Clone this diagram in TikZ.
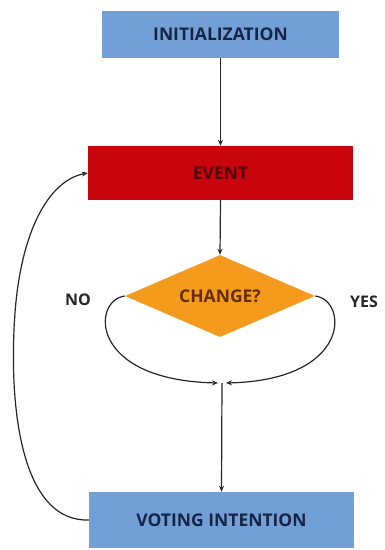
\documentclass[tikz,border=0pt]{standalone}
\usepackage{fontspec}
\setmainfont{Open Sans}
\usetikzlibrary{shapes.geometric,arrows.meta}
\definecolor{boxblue}{RGB}{114,160,214}
\definecolor{evred}{RGB}{200,4,12}
\definecolor{decor}{RGB}{244,154,28}
\definecolor{navy}{RGB}{22,36,70}
\definecolor{darkred}{RGB}{80,0,0}
\definecolor{brown}{RGB}{100,45,5}
\begin{document}
\begin{tikzpicture}[x=1pt,y=-1pt,
  lbl/.style={font=\fontsize{17.5}{20}\selectfont\bfseries},
  side/.style={font=\fontsize{16}{18}\selectfont\bfseries,text=black!85},
  bluebox/.style={fill=boxblue,draw=none,inner sep=0pt,text=navy,lbl},
  arr/.style={-{Stealth[length=6pt,width=5pt]},line width=1.2pt,black!85}]
\useasboundingbox (0,0) rectangle (384,550);
\node[bluebox,minimum width=237pt,minimum height=47pt] (init) at (220.5,34.5) {INITIALIZATION};
\node[fill=evred,draw=none,inner sep=0pt,text=darkred,lbl,minimum width=265pt,minimum height=54pt] (event) at (220.5,173) {EVENT};
\node[diamond,fill=decor,draw=none,inner sep=0pt,text=brown,lbl,minimum width=190pt,minimum height=82pt,aspect=2.3] (change) at (220,296) {CHANGE?};
\node[bluebox,minimum width=265pt,minimum height=56pt] (vote) at (221.5,520) {VOTING INTENTION};
\node[side] (no) at (78,300) {NO};
\node[side] (yes) at (364,302) {YES};
\coordinate (mergeL) at (218,383);
\coordinate (mergeR) at (226,383);
\coordinate (merge) at (222,383);
\draw[arr] (init.south) -- (event.north);
\draw[arr] (event.south) -- (change.north);
\draw[arr] (change.west) .. controls (92,300) and (88,380) .. (mergeL);
\draw[arr] (change.east) .. controls (348,300) and (352,380) .. (mergeR);
\draw[arr] (merge) -- (vote.north);
\draw[arr] (vote.west) .. controls (25,522) and (10,420) .. (14,330)
  .. controls (18,230) and (50,180) .. (event.west);
\end{tikzpicture}
\end{document}
